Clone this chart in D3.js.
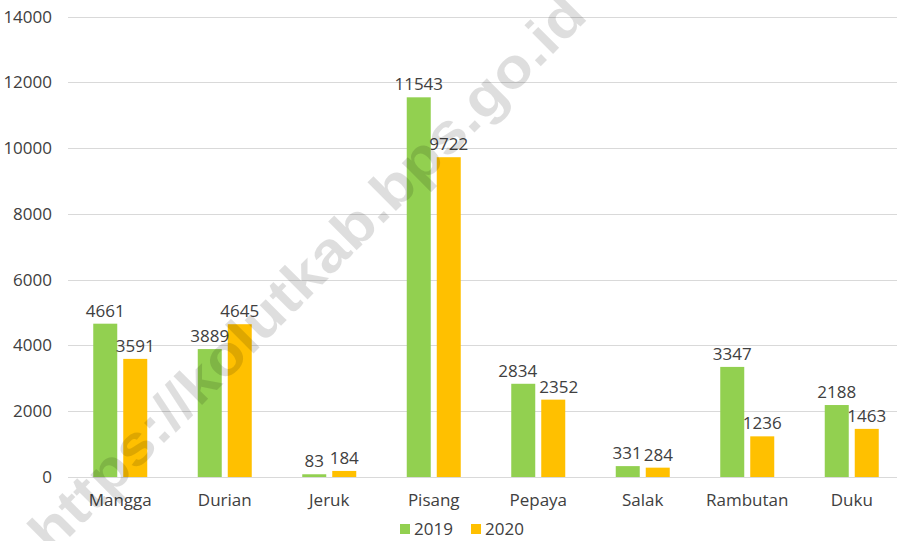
<!DOCTYPE html>
<html>
<head>
<meta charset="utf-8">
<script src="https://cdn.jsdelivr.net/npm/d3@7"></script>
<style>
  body { margin: 0; background: #fff; }
  text { font-family: "Open Sans", "Noto Sans", sans-serif; fill: #404040; }
</style>
</head>
<body>
<div id="chart"></div>
<script>
// Datos
const categories = ["Mangga", "Durian", "Jeruk", "Pisang", "Pepaya", "Salak", "Rambutan", "Duku"];
const years = ["2019", "2020"];
const values2019 = [4661, 3889, 83, 11543, 2834, 331, 3347, 2188];
const values2020 = [3591, 4645, 184, 9722, 2352, 284, 1236, 1463];
const yTicks = [0, 2000, 4000, 6000, 8000, 10000, 12000, 14000];
const colors = ["#92D050", "#FFC000"];

const width = 897, height = 541;
const margin = {top: 16.5, right: -7, bottom: 64, left: 68};

const svg = d3.select("#chart")
    .append("svg")
    .attr("width", width)
    .attr("height", height);

const x = d3.scaleBand().domain(categories).range([margin.left, width - margin.right]);
const x1 = d3.scaleBand().domain(years).range([x.bandwidth() / 2 - 27, x.bandwidth() / 2 + 27]).paddingInner(0.2);
const y = d3.scaleLinear().domain([0, 14000]).range([height - margin.bottom, margin.top]);

// grid
svg.append("g")
    .selectAll("line")
    .data(yTicks)
    .join("line")
    .attr("x1", margin.left).attr("x2", width)
    .attr("y1", d => Math.round(y(d)) + 0.5).attr("y2", d => Math.round(y(d)) + 0.5)
    .attr("stroke", "#d9d9d9").attr("stroke-width", 1);

svg.append("g")
    .selectAll("text")
    .data(yTicks)
    .join("text")
    .attr("x", 52)
    .attr("y", d => y(d) + 6)
    .attr("text-anchor", "end")
    .style("font-size", "17px")
    .text(d => d);

const series = [values2019, values2020];
const groups = svg.append("g")
    .selectAll("g")
    .data(categories)
    .join("g")
    .attr("transform", d => `translate(${x(d)},0)`);

years.forEach((yr, s) => {
    groups.append("rect")
        .attr("x", x1(yr))
        .attr("width", x1.bandwidth())
        .attr("y", (d, i) => y(series[s][i]))
        .attr("height", (d, i) => y(0) - y(series[s][i]))
        .attr("fill", colors[s]);
});

years.forEach((yr, s) => {
    groups.append("text")
        .attr("class", "lbl lbl" + s)
        .attr("x", x1(yr) + x1.bandwidth() / 2)
        .attr("y", (d, i) => y(series[s][i]) - 7)
        .attr("text-anchor", "middle")
        .style("font-size", "17px")
        .text((d, i) => series[s][i]);
});

// separar etiquetas que se pisan
groups.each(function() {
    const a = d3.select(this).select(".lbl0"), b = d3.select(this).select(".lbl1");
    const wa = a.node().getComputedTextLength(), wb = b.node().getComputedTextLength();
    const xa = +a.attr("x"), xb = +b.attr("x");
    const dy = Math.abs(+a.attr("y") - +b.attr("y"));
    const overlap = (xa + wa / 2 + 2) - (xb - wb / 2);
    if (dy < 18 && overlap > 0) {
        a.attr("x", xa - overlap / 2);
        b.attr("x", xb + overlap / 2);
    }
});

// categorias
svg.append("g")
    .selectAll("text")
    .data(categories)
    .join("text")
    .attr("x", d => x(d) + x.bandwidth() / 2)
    .attr("y", 506)
    .attr("text-anchor", "middle")
    .style("font-size", "17px")
    .text(d => d);

// leyenda
const legend = svg.append("g").attr("transform", "translate(400,524)");
years.forEach((yr, s) => {
    const lg = legend.append("g").attr("transform", `translate(${s * 71},0)`);
    lg.append("rect").attr("width", 10).attr("height", 10).attr("fill", colors[s]);
    lg.append("text").attr("x", 14).attr("y", 11).style("font-size", "17px").text(yr);
});

// marca de agua
svg.append("text")
    .attr("transform", "translate(310,276) rotate(-45)")
    .attr("text-anchor", "middle")
    .attr("dominant-baseline", "middle")
    .attr("textLength", 760)
    .attr("lengthAdjust", "spacingAndGlyphs")
    .style("font-family", "'Liberation Sans', Arial, sans-serif")
    .style("font-weight", "bold")
    .style("font-size", "56px")
    .style("fill", "#000")
    .style("fill-opacity", 0.13)
    .text("https://kolutkab.bps.go.id");
</script>
</body>
</html>
